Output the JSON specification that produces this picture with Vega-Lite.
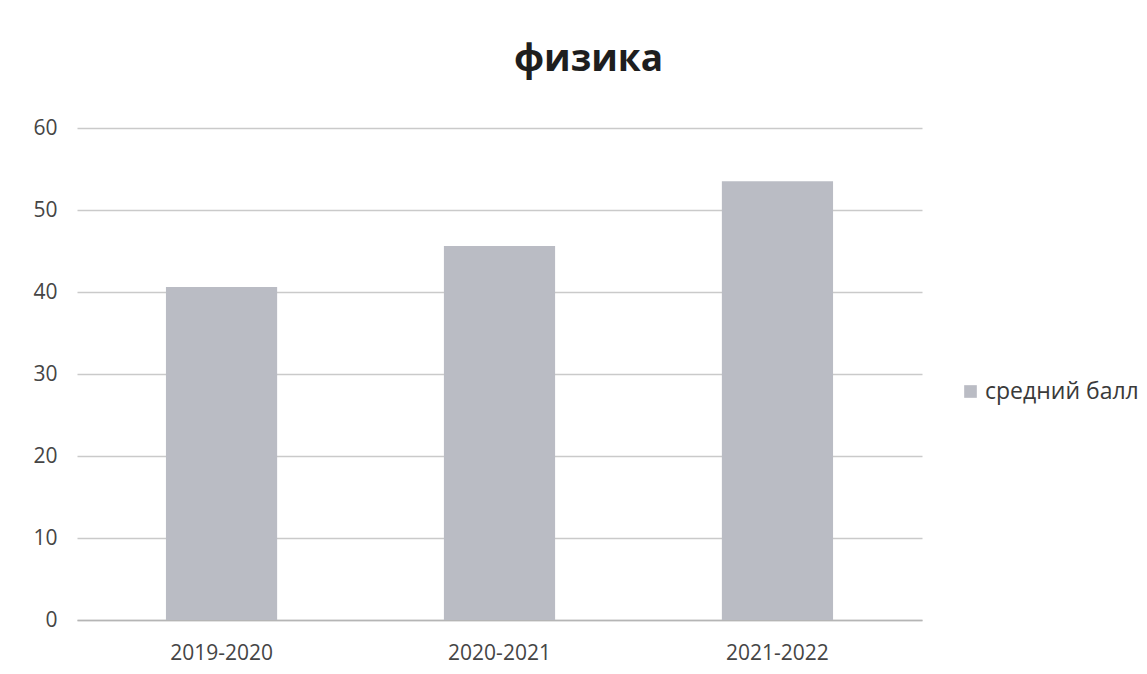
{
  "$schema": "https://vega.github.io/schema/vega-lite/v6.json",
  "autosize": {"type": "none"},
  "width": 845,
  "height": 492,
  "padding": {"left": 77, "top": 128, "right": 225, "bottom": 54},
  "background": "white",
  "config": {
    "font": "Open Sans",
    "view": {"stroke": null}
  },
  "title": {
    "text": "физика",
    "fontSize": 37,
    "fontWeight": "bold",
    "font": "Open Sans",
    "color": "#1e1e1e",
    "anchor": "middle",
    "frame": "group",
    "dx": 89,
    "offset": 38
  },
  "data": {
    "values": [
      {"year": "2019-2020", "score": 40.6, "series": "средний балл"},
      {"year": "2020-2021", "score": 45.6, "series": "средний балл"},
      {"year": "2021-2022", "score": 53.5, "series": "средний балл"}
    ]
  },
  "mark": {"type": "bar"},
  "encoding": {
    "x": {
      "field": "year",
      "type": "nominal",
      "sort": null,
      "scale": {"paddingInner": 0.6, "paddingOuter": 0.32},
      "axis": {
        "title": null,
        "labelAngle": 0,
        "labelFontSize": 21,
        "labelColor": "#454545",
        "labelPadding": 22,
        "ticks": false,
        "domainColor": "#b5b5b5",
        "domainWidth": 1.5,
        "grid": false
      }
    },
    "y": {
      "field": "score",
      "type": "quantitative",
      "scale": {"domain": [0, 60], "nice": false},
      "axis": {
        "title": null,
        "values": [0, 10, 20, 30, 40, 50, 60],
        "labelFontSize": 21,
        "labelColor": "#454545",
        "labelPadding": 20,
        "ticks": false,
        "domain": false,
        "gridColor": "#cacaca",
        "gridWidth": 1.5
      }
    },
    "color": {
      "field": "series",
      "type": "nominal",
      "scale": {"range": ["#babcc4"]},
      "legend": {
        "title": null,
        "orient": "none",
        "legendX": 882,
        "legendY": 252,
        "symbolType": "square",
        "symbolSize": 160,
        "labelFontSize": 23,
        "labelColor": "#3a3a3a",
        "labelOffset": 3
      }
    }
  }
}
